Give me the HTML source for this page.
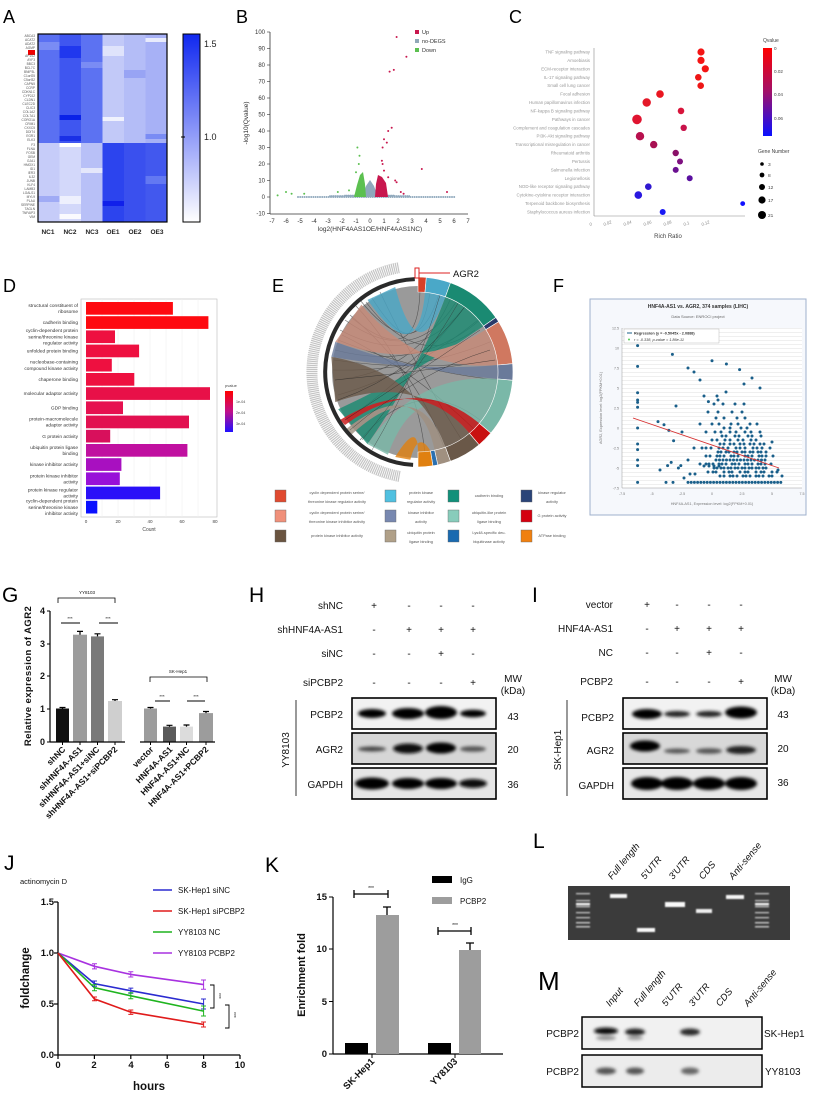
<!DOCTYPE html>
<html><head><meta charset="utf-8"><style>
html,body{margin:0;padding:0;background:#fff}
svg{display:block;font-family:"Liberation Sans",Arial,sans-serif}
</style></head><body>
<svg xmlns="http://www.w3.org/2000/svg" width="821" height="1110" viewBox="0 0 821 1110">
<defs>
<linearGradient id="hmcb" x1="0" y1="1" x2="0" y2="0"><stop offset="0" stop-color="#ffffff"/><stop offset="1" stop-color="#1028f0"/></linearGradient>
<linearGradient id="qcb" x1="0" y1="0" x2="0" y2="1"><stop offset="0" stop-color="#ff0000"/><stop offset="0.5" stop-color="#a0106a"/><stop offset="1" stop-color="#0a10ff"/></linearGradient>
<linearGradient id="pcb" x1="0" y1="0" x2="0" y2="1"><stop offset="0" stop-color="#ff0000"/><stop offset="0.5" stop-color="#c0108a"/><stop offset="1" stop-color="#2010ff"/></linearGradient>
<pattern id="fgrid" width="10" height="4" patternUnits="userSpaceOnUse"><line x1="0" y1="0.5" x2="10" y2="0.5" stroke="#e4e4e4" stroke-width="0.6"/></pattern>
<filter id="bl"><feGaussianBlur stdDeviation="1.6"/></filter>
<filter id="bl2"><feGaussianBlur stdDeviation="0.8"/></filter>
</defs>

<g font-size="18" fill="#000">
<text x="3" y="23">A</text><text x="236" y="23">B</text><text x="509" y="23">C</text>
<text x="3" y="292">D</text><text x="272" y="292">E</text><text x="553" y="292">F</text>
</g>
<g font-size="21" fill="#000">
<text x="2" y="602">G</text><text x="249" y="602">H</text><text x="532" y="602">I</text>
<text x="4" y="870">J</text><text x="265" y="872">K</text><text x="533" y="848">L</text>
<text x="538" y="990" font-size="26">M</text>
</g>

<!-- A heatmap -->
<g>
<rect x="38" y="34" width="21.5" height="109" fill="#5a70f2"/>
<rect x="59.5" y="34" width="21.5" height="109" fill="#3f56f0"/>
<rect x="81" y="34" width="21.5" height="109" fill="#5c72f2"/>
<rect x="102.5" y="34" width="21.5" height="109" fill="#c2c9f8"/>
<rect x="124" y="34" width="21.5" height="109" fill="#b4bdf7"/>
<rect x="145.5" y="34" width="21.5" height="109" fill="#a7b1f6"/>
<rect x="38" y="143" width="21.5" height="79" fill="#c6ccf9"/>
<rect x="59.5" y="143" width="21.5" height="79" fill="#d3d8fa"/>
<rect x="81" y="143" width="21.5" height="79" fill="#b8c0f7"/>
<rect x="102.5" y="143" width="21.5" height="79" fill="#2c44ee"/>
<rect x="124" y="143" width="21.5" height="79" fill="#3a50ee"/>
<rect x="145.5" y="143" width="21.5" height="79" fill="#4258ee"/>
<rect x="38" y="42" width="21.5" height="8" fill="#7a8cf4"/>
<rect x="59.5" y="46" width="21.5" height="12" fill="#2038ee"/>
<rect x="81" y="62" width="21.5" height="6" fill="#7a8cf4"/>
<rect x="102.5" y="46" width="21.5" height="10" fill="#dfe3fb"/>
<rect x="124" y="70" width="21.5" height="8" fill="#98a4f4"/>
<rect x="145.5" y="38" width="21.5" height="4" fill="#e8ebfc"/>
<rect x="59.5" y="115" width="21.5" height="5" fill="#0a22e8"/>
<rect x="102.5" y="117" width="21.5" height="4" fill="#f0f2fd"/>
<rect x="59.5" y="136" width="21.5" height="5" fill="#1a30e6"/>
<rect x="145.5" y="134" width="21.5" height="5" fill="#7a8cf4"/>
<rect x="59.5" y="143" width="21.5" height="4" fill="#ffffff"/>
<rect x="59.5" y="196" width="21.5" height="8" fill="#eef0fd"/>
<rect x="59.5" y="214" width="21.5" height="5" fill="#fafafe"/>
<rect x="102.5" y="201" width="21.5" height="5" fill="#1020ea"/>
<rect x="81" y="168" width="21.5" height="5" fill="#e4e7fb"/>
<rect x="38" y="196" width="21.5" height="6" fill="#a0abf5"/>
<rect x="145.5" y="176" width="21.5" height="8" fill="#6378f2"/>
</g>
<rect x="38" y="34" width="129" height="188" fill="none" stroke="#000" stroke-width="1.2"/>
<rect x="28" y="50" width="7" height="5" fill="#e00"/>
<g font-size="3.2" fill="#555" text-anchor="end">
<text x="35" y="37">ABCA3</text><text x="35" y="41">ACAT2</text><text x="35" y="45">ADAT2</text><text x="35" y="49">AGMP</text><text x="35" y="57">AP1S2</text><text x="35" y="61">AYF3</text><text x="35" y="65">BBC3</text><text x="35" y="69">BCL7C</text><text x="35" y="73">BNIP3L</text><text x="35" y="77">C1orf25</text><text x="35" y="81">C5orf32</text><text x="35" y="85">CAPN5</text><text x="35" y="89">CCRP</text><text x="35" y="93">CDKN1C</text><text x="35" y="97">CYP2J2</text><text x="35" y="101">CLDN1</text><text x="35" y="105">CLEC2D</text><text x="35" y="109">CLIC3</text><text x="35" y="113">COL1A2</text><text x="35" y="117">COL7A1</text><text x="35" y="121">CORO1A</text><text x="35" y="125">CRIM1</text><text x="35" y="129">CXXC5</text><text x="35" y="133">DDIT4</text><text x="35" y="137">EGR1</text><text x="35" y="141">ELK3</text>
<text x="35" y="146">F3</text><text x="35" y="150">FLNA</text><text x="35" y="154">FOSB</text><text x="35" y="158">GEM</text><text x="35" y="162">GJA1</text><text x="35" y="166">HMOX1</text><text x="35" y="170">ID1</text><text x="35" y="174">IER3</text><text x="35" y="178">IL32</text><text x="35" y="182">JUNB</text><text x="35" y="186">KLF4</text><text x="35" y="190">LAMB3</text><text x="35" y="194">LGALS1</text><text x="35" y="198">MYL9</text><text x="35" y="202">PLAU</text><text x="35" y="206">SERPINE</text><text x="35" y="210">TAGLN</text><text x="35" y="214">TNFAIP3</text><text x="35" y="218">VIM</text>
</g>
<rect x="183" y="34" width="17" height="188" fill="url(#hmcb)" stroke="#000" stroke-width="1"/>
<line x1="181" y1="137" x2="185" y2="137" stroke="#000"/>
<g font-size="9" fill="#222"><text x="204" y="47">1.5</text><text x="204" y="140">1.0</text></g>
<g font-size="6.5" font-weight="bold" fill="#222" text-anchor="middle">
<text x="48" y="234">NC1</text><text x="70" y="234">NC2</text><text x="92" y="234">NC3</text><text x="113" y="234">OE1</text><text x="135" y="234">OE2</text><text x="157" y="234">OE3</text>
</g>

<!-- B volcano -->
<g stroke="#333" stroke-width="0.8" fill="none">
<line x1="270" y1="32" x2="270" y2="214"/><line x1="270" y1="214" x2="468" y2="214"/>
</g>
<g stroke="#333" stroke-width="0.6">
<line x1="267" y1="213.5" x2="270" y2="213.5"/><line x1="267" y1="197" x2="270" y2="197"/><line x1="267" y1="180.5" x2="270" y2="180.5"/><line x1="267" y1="164" x2="270" y2="164"/><line x1="267" y1="147.5" x2="270" y2="147.5"/><line x1="267" y1="131" x2="270" y2="131"/><line x1="267" y1="114.5" x2="270" y2="114.5"/><line x1="267" y1="98" x2="270" y2="98"/><line x1="267" y1="81.5" x2="270" y2="81.5"/><line x1="267" y1="65" x2="270" y2="65"/><line x1="267" y1="48.5" x2="270" y2="48.5"/><line x1="267" y1="32" x2="270" y2="32"/>
</g>
<g font-size="6" fill="#333" text-anchor="end">
<text x="265" y="215.5">-10</text><text x="265" y="199">0</text><text x="265" y="182.5">10</text><text x="265" y="166">20</text><text x="265" y="149.5">30</text><text x="265" y="133">40</text><text x="265" y="116.5">50</text><text x="265" y="100">60</text><text x="265" y="83.5">70</text><text x="265" y="67">80</text><text x="265" y="50.5">90</text><text x="265" y="34">100</text>
</g>
<g font-size="6" fill="#333" text-anchor="middle">
<text x="272" y="223">-7</text><text x="286" y="223">-6</text><text x="300" y="223">-5</text><text x="314" y="223">-4</text><text x="328" y="223">-3</text><text x="342" y="223">-2</text><text x="356" y="223">-1</text><text x="370" y="223">0</text><text x="384" y="223">1</text><text x="398" y="223">2</text><text x="412" y="223">3</text><text x="426" y="223">4</text><text x="440" y="223">5</text><text x="454" y="223">6</text><text x="468" y="223">7</text>
</g>
<g fill="none" stroke-linecap="round">
<path d="M298 197 H456" stroke="#8fa8bc" stroke-width="2" stroke-dasharray="0 2.2"/>
<path d="M330 196 H410 M345 195.5 H395" stroke="#8fa8bc" stroke-width="1.8" stroke-dasharray="0 1.8"/>
<polygon points="362,197 366,186 370,180 374,186 378,197" fill="#8fa8bc" stroke="none"/>
<polygon points="354,197 357,185 360,175 363,172 365,184 366,197" fill="#5cc050" stroke="none"/>
<polygon points="375,197 376,184 378,175 382,177 386,183 388,197" fill="#c8174e" stroke="none"/>
</g>
<g fill="#c8174e">
<circle cx="396.6" cy="37" r="1"/><circle cx="406.4" cy="56.8" r="1"/><circle cx="389.6" cy="71.6" r="1"/><circle cx="393.8" cy="69.9" r="1"/><circle cx="391.7" cy="127.7" r="1"/><circle cx="388.2" cy="131" r="1"/><circle cx="384" cy="139.3" r="1"/><circle cx="382.6" cy="147.5" r="1"/><circle cx="386.8" cy="142.6" r="1"/><circle cx="381.9" cy="160.7" r="1"/><circle cx="382.6" cy="164" r="1"/><circle cx="395.2" cy="180.5" r="1"/><circle cx="396.6" cy="182.2" r="1"/><circle cx="388.2" cy="177.2" r="1"/><circle cx="400.8" cy="192" r="1"/><circle cx="403.6" cy="193.7" r="1"/><circle cx="421.8" cy="169" r="1"/><circle cx="447" cy="192" r="1"/><circle cx="384" cy="170.6" r="1"/>
</g>
<g fill="#5cc050">
<circle cx="357.4" cy="147.5" r="1"/><circle cx="359.5" cy="155.8" r="1"/><circle cx="358.8" cy="164" r="1"/><circle cx="356" cy="172.3" r="1"/><circle cx="286" cy="192" r="1"/><circle cx="291.6" cy="193.7" r="1"/><circle cx="304.2" cy="193.7" r="1"/><circle cx="277.6" cy="195.4" r="1"/><circle cx="349" cy="190.4" r="1"/><circle cx="337.8" cy="192" r="1"/>
</g>
<g font-size="5.5" fill="#333">
<rect x="415" y="30" width="4" height="4" fill="#c8174e"/><text x="422" y="34">Up</text>
<rect x="415" y="39" width="4" height="4" fill="#90a8b8"/><text x="422" y="43">no-DEGS</text>
<rect x="415" y="48" width="4" height="4" fill="#5cc050"/><text x="422" y="52">Down</text>
</g>
<text x="248" y="123" font-size="6.5" fill="#333" text-anchor="middle" transform="rotate(-90 248 123)">-log10(Qvalue)</text>
<text x="370" y="231" font-size="6.5" fill="#333" text-anchor="middle">log2(HNF4AAS1OE/HNF4AAS1NC)</text>

<!-- C bubble -->
<g stroke="#888" stroke-width="0.6"><line x1="594" y1="48" x2="594" y2="216"/><line x1="594" y1="216" x2="745" y2="216"/></g>
<g font-size="4.4" fill="#999" text-anchor="end">
<text x="590" y="53.5">TNF signaling pathway</text><text x="590" y="61.9">Amoebiasis</text><text x="590" y="70.3">ECM-receptor interaction</text><text x="590" y="78.8">IL-17 signaling pathway</text><text x="590" y="87.2">Small cell lung cancer</text><text x="590" y="95.6">Focal adhesion</text><text x="590" y="104">Human papillomavirus infection</text><text x="590" y="112.4">NF-kappa B signaling pathway</text><text x="590" y="120.9">Pathways in cancer</text><text x="590" y="129.3">Complement and coagulation cascades</text><text x="590" y="137.7">PI3K-Akt signaling pathway</text><text x="590" y="146.1">Transcriptional misregulation in cancer</text><text x="590" y="154.5">Rheumatoid arthritis</text><text x="590" y="163">Pertussis</text><text x="590" y="171.4">Salmonella infection</text><text x="590" y="179.8">Legionellosis</text><text x="590" y="188.2">NOD-like receptor signaling pathway</text><text x="590" y="196.6">Cytokine-cytokine receptor interaction</text><text x="590" y="205.1">Terpenoid backbone biosynthesis</text><text x="590" y="213.5">Staphylococcus aureus infection</text>
</g>
<g>
<circle cx="701" cy="52" r="3.6" fill="#f41414"/><circle cx="701" cy="60.4" r="3.6" fill="#f41414"/><circle cx="705.3" cy="68.8" r="3.6" fill="#f41414"/><circle cx="698.3" cy="77.3" r="3.3" fill="#ee1616"/><circle cx="700.7" cy="85.7" r="3.3" fill="#ee1616"/><circle cx="660" cy="94.1" r="3.8" fill="#ea1620"/><circle cx="646.7" cy="102.5" r="4.2" fill="#e41828"/><circle cx="681" cy="110.9" r="3.3" fill="#d8143a"/><circle cx="637" cy="119.4" r="4.8" fill="#e01430"/><circle cx="683.7" cy="127.8" r="3.2" fill="#c8124a"/><circle cx="640" cy="136.2" r="4.2" fill="#b8104e"/><circle cx="653.7" cy="144.6" r="3.7" fill="#a81052"/><circle cx="675.7" cy="153" r="3.2" fill="#8a1068"/><circle cx="680" cy="161.5" r="3" fill="#7e1080"/><circle cx="675.7" cy="169.9" r="3" fill="#6a1090"/><circle cx="689.7" cy="178.3" r="3" fill="#5a10a0"/><circle cx="648.3" cy="186.7" r="3.3" fill="#3018d0"/><circle cx="638.3" cy="195.1" r="3.8" fill="#2a18e0"/><circle cx="742.7" cy="203.6" r="2.4" fill="#1010ff"/><circle cx="662.7" cy="212" r="3" fill="#1818f4"/>
</g>
<g font-size="4.3" fill="#888" font-style="italic">
<text transform="translate(590 226) rotate(-20)">0</text><text transform="translate(604 226) rotate(-20)">0.02</text><text transform="translate(624 226) rotate(-20)">0.04</text><text transform="translate(644 226) rotate(-20)">0.06</text><text transform="translate(664 226) rotate(-20)">0.08</text><text transform="translate(684 226) rotate(-20)">0.1</text><text transform="translate(702 226) rotate(-20)">0.12</text>
</g>
<text x="668" y="238" font-size="6" fill="#444" text-anchor="middle">Rich Ratio</text>
<text x="763" y="42" font-size="5" fill="#444">Qvalue</text>
<rect x="763" y="48" width="9" height="88" fill="url(#qcb)"/>
<g font-size="4.6" fill="#444"><text x="774" y="50">0</text><text x="774" y="73">0.02</text><text x="774" y="96">0.04</text><text x="774" y="120">0.06</text></g>
<text x="758" y="153" font-size="5" fill="#444">Gene Number</text>
<g fill="#000"><circle cx="762" cy="164" r="1.8"/><circle cx="762" cy="175" r="2.4"/><circle cx="762" cy="187" r="3"/><circle cx="762" cy="200" r="3.6"/><circle cx="762" cy="215" r="4"/></g>
<g font-size="4.8" fill="#444"><text x="768" y="166">3</text><text x="768" y="177">8</text><text x="768" y="189">12</text><text x="768" y="202">17</text><text x="768" y="217">21</text></g>

<!-- D bars -->
<rect x="81" y="299" width="136" height="218" fill="#fff" stroke="#bbb" stroke-width="0.6"/>
<g stroke="#eee" stroke-width="0.5"><line x1="118" y1="299" x2="118" y2="517"/><line x1="150" y1="299" x2="150" y2="517"/><line x1="182" y1="299" x2="182" y2="517"/><line x1="102" y1="299" x2="102" y2="517"/><line x1="134" y1="299" x2="134" y2="517"/><line x1="166" y1="299" x2="166" y2="517"/><line x1="198" y1="299" x2="198" y2="517"/></g>
<g>
<rect x="86" y="302" width="86.9" height="12.7" fill="#fe0a10"/>
<rect x="86" y="316.2" width="122.4" height="12.7" fill="#fe0a10"/>
<rect x="86" y="330.4" width="29" height="12.7" fill="#ee1040"/>
<rect x="86" y="344.6" width="53.1" height="12.7" fill="#ee1040"/>
<rect x="86" y="358.8" width="25.8" height="12.7" fill="#ee1040"/>
<rect x="86" y="373" width="48.3" height="12.7" fill="#ee1040"/>
<rect x="86" y="387.2" width="124" height="12.7" fill="#e81048"/>
<rect x="86" y="401.4" width="37" height="12.7" fill="#e61050"/>
<rect x="86" y="415.6" width="103" height="12.7" fill="#e21050"/>
<rect x="86" y="429.8" width="24.2" height="12.7" fill="#d8105c"/>
<rect x="86" y="444" width="101.4" height="12.7" fill="#c010a0"/>
<rect x="86" y="458.2" width="35.4" height="12.7" fill="#a810c0"/>
<rect x="86" y="472.4" width="33.8" height="12.7" fill="#9810d8"/>
<rect x="86" y="486.6" width="74.1" height="12.7" fill="#2a10f8"/>
<rect x="86" y="500.8" width="11.3" height="12.7" fill="#0a10ff"/>
</g>
<g font-size="4.8" fill="#333" text-anchor="end">
<text x="78" y="306.9">structural constituent of</text><text x="78" y="313.1">ribosome</text>
<text x="78" y="324.2">cadherin binding</text>
<text x="78" y="332.2">cyclin-dependent protein</text><text x="78" y="338.4">serine/threonine kinase</text><text x="78" y="344.6">regulator activity</text>
<text x="78" y="352.6">unfolded protein binding</text>
<text x="78" y="363.7">nucleobase-containing</text><text x="78" y="369.9">compound kinase activity</text>
<text x="78" y="381">chaperone binding</text>
<text x="78" y="395.2">molecular adaptor activity</text>
<text x="78" y="409.4">GDP binding</text>
<text x="78" y="420.5">protein-macromolecule</text><text x="78" y="426.7">adaptor activity</text>
<text x="78" y="437.8">G protein activity</text>
<text x="78" y="448.9">ubiquitin protein ligase</text><text x="78" y="455.1">binding</text>
<text x="78" y="466.2">kinase inhibitor activity</text>
<text x="78" y="477.3">protein kinase inhibitor</text><text x="78" y="483.5">activity</text>
<text x="78" y="491.5">protein kinase regulator</text><text x="78" y="497.7">activity</text>
<text x="78" y="502.6">cyclin-dependent protein</text><text x="78" y="508.8">serine/threonine kinase</text><text x="78" y="515">inhibitor activity</text>
</g>
<g font-size="4.6" fill="#444" text-anchor="middle"><text x="86" y="523">0</text><text x="118" y="523">20</text><text x="150" y="523">40</text><text x="182" y="523">60</text><text x="215" y="523">80</text></g>
<text x="149" y="531" font-size="5" fill="#444" text-anchor="middle">Count</text>
<text x="225" y="387" font-size="4" fill="#444">pvalue</text>
<rect x="225" y="391" width="8" height="41" fill="url(#pcb)"/>
<g font-size="3.6" fill="#444"><text x="236" y="403">1e-04</text><text x="236" y="414">2e-04</text><text x="236" y="425">3e-04</text></g>

<!-- E chord -->
<path d="M399.6 476.4 A106 106 0 0 1 399.6 267.6" fill="none" stroke="#c4c4c4" stroke-width="11" stroke-dasharray="1.2 0.8"/>
<circle cx="418" cy="372" r="86" fill="#9a9a9a"/>
<g stroke="#3a3a3a" stroke-width="0.6" fill="none" opacity="0.7">
<path d="M340 330 Q418 372 470 300"/><path d="M335 350 Q418 372 480 320"/><path d="M345 320 Q418 372 460 295"/><path d="M360 300 Q418 372 440 290"/><path d="M333 370 Q418 372 495 340"/><path d="M338 395 Q418 372 490 310"/><path d="M352 318 Q418 372 420 290"/><path d="M372 298 Q418 372 430 292"/><path d="M345 420 Q418 372 470 300"/><path d="M360 440 Q418 372 480 420"/><path d="M335 380 Q418 372 450 300"/><path d="M342 335 Q418 372 485 440"/><path d="M350 315 Q418 372 445 450"/><path d="M380 292 Q418 372 465 445"/><path d="M356 306 Q418 372 425 455"/><path d="M334 360 Q418 372 498 360"/><path d="M338 340 Q418 372 498 380"/><path d="M366 302 Q418 372 475 330"/>
</g>
<g opacity="0.8">
<path d="M445.4 296.8 A80 80 0 0 1 483.5 326.1 Q418 372 338.2 409.2 L367.5 444.1 Q418 372 445.4 296.8Z" fill="#1a8a72"/>
<path d="M497.7 379 A80 80 0 0 1 479.3 423.4 Q418 372 387.9 454.7 L367.5 444.1 Q418 372 497.7 379Z" fill="#7ab8a8"/>
<path d="M469.4 433.3 A80 80 0 0 1 445.4 447.2 Q418 372 331.3 356.7 L335.3 402.1 Q418 372 469.4 433.3Z" fill="#6a5848"/>
<path d="M485.8 329.6 A80 80 0 0 1 497.7 365 Q418 372 361.4 304.6 L335.3 341.9 Q418 372 485.8 329.6Z" fill="#c98a78"/>
<path d="M425 292.3 A80 80 0 0 1 445.4 296.8 Q418 372 395.2 287 L367.5 299.9 Q418 372 425 292.3Z" fill="#4aa8c8"/>
<path d="M497.7 365 A80 80 0 0 1 497.7 379 Q418 372 335.3 341.9 L331.3 356.7 Q418 372 497.7 365Z" fill="#6a7a9a"/>
<path d="M430.5 451 A80 80 0 0 1 418 452 Q418 420 395.2 457 L410.3 459.7 Q418 430 430.5 451Z" fill="#e08010"/>
<path d="M445.4 447.2 A80 80 0 0 1 434.6 450.2 Q418 372 345 430 L350 436 Q418 372 445.4 447.2Z" fill="#a09080"/>
<path d="M479.3 423.4 A80 80 0 0 1 469.4 433.3 Q418 372 340 420 L345 425 Q418 372 479.3 423.4Z" fill="#c81010"/>
</g>
<g fill="none" stroke-width="0.5" opacity="0.7">
<path d="M338 400 Q418 372 470 300" stroke="#222"/><path d="M345 420 Q418 372 480 330" stroke="#222"/><path d="M362 440 Q418 372 460 300" stroke="#333"/><path d="M350 430 Q418 372 490 350" stroke="#222"/><path d="M372 450 Q418 372 440 295" stroke="#333"/><path d="M335 380 Q418 372 495 360" stroke="#222"/>
</g>
<path d="M418 277 A95 95 0 0 1 426.3 277.4 L425 292.3 A80 80 0 0 0 418 292Z" fill="#d84028" stroke="#fff" stroke-width="0.6"/>
<path d="M426.3 277.4 A95 95 0 0 1 450.5 282.7 L445.4 296.8 A80 80 0 0 0 425 292.3Z" fill="#4aa8c8" stroke="#fff" stroke-width="0.6"/>
<path d="M450.5 282.7 A95 95 0 0 1 495.8 317.5 L483.5 326.1 A80 80 0 0 0 445.4 296.8Z" fill="#1a8a72" stroke="#fff" stroke-width="0.6"/>
<path d="M495.8 317.5 A95 95 0 0 1 498.6 321.7 L485.8 329.6 A80 80 0 0 0 483.5 326.1Z" fill="#2a3a6a" stroke="#fff" stroke-width="0.6"/>
<path d="M498.6 321.7 A95 95 0 0 1 512.6 363.7 L497.7 365 A80 80 0 0 0 485.8 329.6Z" fill="#d07860" stroke="#fff" stroke-width="0.6"/>
<path d="M512.6 363.7 A95 95 0 0 1 512.6 380.3 L497.7 379 A80 80 0 0 0 497.7 365Z" fill="#6a7a9a" stroke="#fff" stroke-width="0.6"/>
<path d="M512.6 380.3 A95 95 0 0 1 490.8 433.1 L479.3 423.4 A80 80 0 0 0 497.7 379Z" fill="#7ab8a8" stroke="#fff" stroke-width="0.6"/>
<path d="M490.8 433.1 A95 95 0 0 1 479.1 444.8 L469.4 433.3 A80 80 0 0 0 479.3 423.4Z" fill="#c81010" stroke="#fff" stroke-width="0.6"/>
<path d="M479.1 444.8 A95 95 0 0 1 450.5 461.3 L445.4 447.2 A80 80 0 0 0 469.4 433.3Z" fill="#6a5848" stroke="#fff" stroke-width="0.6"/>
<path d="M450.5 461.3 A95 95 0 0 1 437.8 464.9 L434.6 450.2 A80 80 0 0 0 445.4 447.2Z" fill="#a09080" stroke="#fff" stroke-width="0.6"/>
<path d="M437.8 464.9 A95 95 0 0 1 432.9 465.8 L430.5 451 A80 80 0 0 0 434.6 450.2Z" fill="#2a70b0" stroke="#fff" stroke-width="0.6"/>
<path d="M432.9 465.8 A95 95 0 0 1 418 467 L418 452 A80 80 0 0 0 430.5 451Z" fill="#e08010" stroke="#fff" stroke-width="0.6"/>
<path d="M413.1 464.9 A93 93 0 0 1 414.8 279.1" fill="none" stroke="#2a2a2a" stroke-width="4"/>
<rect x="415" y="268" width="4" height="10" fill="none" stroke="#d22" stroke-width="1"/>
<line x1="419" y1="273" x2="450" y2="273" stroke="#d22" stroke-width="1"/>
<text x="453" y="277" font-size="9.5" fill="#111">AGR2</text>
<g stroke="#666" stroke-width="0.4">
<rect x="275" y="490" width="11" height="12" fill="#e04a30"/><rect x="385" y="490" width="11" height="12" fill="#50c0e0"/><rect x="448" y="490" width="11" height="12" fill="#12907a"/><rect x="521" y="490" width="11" height="12" fill="#2a4478"/>
<rect x="275" y="510" width="11" height="12" fill="#f0907a"/><rect x="385" y="510" width="11" height="12" fill="#7888b0"/><rect x="448" y="510" width="11" height="12" fill="#88ccbb"/><rect x="521" y="510" width="11" height="12" fill="#d40010"/>
<rect x="275" y="530" width="11" height="12" fill="#6a5440"/><rect x="385" y="530" width="11" height="12" fill="#b0a088"/><rect x="448" y="530" width="11" height="12" fill="#1a6ab0"/><rect x="521" y="530" width="11" height="12" fill="#f08010"/>
</g>
<g font-size="3.9" fill="#555" text-anchor="middle">
<text x="337" y="494">cyclin dependent protein serine/</text><text x="337" y="503">threonine kinase regulator activity</text>
<text x="421" y="494">protein kinase</text><text x="421" y="503">regulator activity</text>
<text x="489" y="497">cadherin binding</text>
<text x="552" y="494">kinase regulator</text><text x="552" y="503">activity</text>
<text x="337" y="514">cyclin dependent protein serine/</text><text x="337" y="523">threonine kinase inhibitor activity</text>
<text x="421" y="514">kinase inhibitor</text><text x="421" y="523">activity</text>
<text x="489" y="514">ubiquitin-like protein</text><text x="489" y="523">ligase binding</text>
<text x="552" y="517">G protein activity</text>
<text x="337" y="537">protein kinase inhibitor activity</text>
<text x="421" y="534">ubiquitin protein</text><text x="421" y="543">ligase binding</text>
<text x="489" y="534">Lys48-specific deu-</text><text x="489" y="543">biquitinase activity</text>
<text x="552" y="537">ATPase binding</text>
</g>

<!-- F scatter -->
<rect x="590" y="299" width="216" height="216" fill="#f6f8fc" stroke="#9fb0cc" stroke-width="1"/>
<rect x="622" y="328" width="180" height="160" fill="#fff"/>
<rect x="622" y="328" width="180" height="160" fill="url(#fgrid)"/>
<line x1="622" y1="328" x2="622" y2="488" stroke="#999" stroke-width="0.5"/><line x1="622" y1="488" x2="802" y2="488" stroke="#999" stroke-width="0.5"/>
<text x="698" y="308" font-size="5" font-weight="bold" fill="#333" text-anchor="middle">HNF4A-AS1 vs. AGR2, 374 samples (LIHC)</text>
<text x="698" y="318" font-size="4" fill="#666" text-anchor="middle">Data Source: ENROCI project</text>
<g fill="none" stroke="#1a5f8a" stroke-linecap="round" stroke-width="3">
<path d="M688 482.4 H782" stroke-dasharray="0 3.2"/>
<path d="M666 482.4 H680" stroke-dasharray="0 7"/>
<path d="M720 476 H776" stroke-dasharray="0 4 0 6 0 3"/>
<path d="M708 472 H778" stroke-dasharray="0 5 0 3 0 8"/>
<path d="M714 468 H770" stroke-dasharray="0 3 0 4"/>
<path d="M700 464 H774" stroke-dasharray="0 6 0 3 0 4"/>
<path d="M716 460 H766" stroke-dasharray="0 3.5"/>
<path d="M706 456 H776" stroke-dasharray="0 4 0 7 0 3"/>
<path d="M718 452 H768" stroke-dasharray="0 3 0 5"/>
<path d="M694 448 H772" stroke-dasharray="0 8 0 4 0 5"/>
<path d="M720 444 H766" stroke-dasharray="0 4 0 6"/>
<path d="M712 440 H760" stroke-dasharray="0 5 0 8"/>
<path d="M722 436 H762" stroke-dasharray="0 4 0 9"/>
<path d="M706 432 H766" stroke-dasharray="0 9 0 6"/>
<path d="M724 428 H756" stroke-dasharray="0 6 0 11"/>
<path d="M700 424 H760" stroke-dasharray="0 12 0 7"/>
<path d="M716 418 H756" stroke-dasharray="0 8 0 13"/>
<path d="M708 412 H750" stroke-dasharray="0 10 0 14"/>
<path d="M714 404 H746" stroke-dasharray="0 9 0 12"/>
<path d="M704 396 H730" stroke-dasharray="0 13"/>
<path d="M704 466 H720 M690 474 H700" stroke-dasharray="0 5"/>
</g>
<g fill="#1a5f8a">
<circle cx="637.6" cy="345.6" r="1.5"/><circle cx="637.6" cy="366.4" r="1.5"/><circle cx="637.6" cy="392.8" r="1.5"/><circle cx="637.6" cy="400" r="1.5"/><circle cx="637.6" cy="402.4" r="1.5"/><circle cx="637.6" cy="407.2" r="1.5"/><circle cx="637.6" cy="428" r="1.5"/><circle cx="637.6" cy="444" r="1.5"/><circle cx="637.6" cy="449.6" r="1.5"/><circle cx="637.6" cy="460" r="1.5"/><circle cx="637.6" cy="465.6" r="1.5"/><circle cx="637.6" cy="482.4" r="1.5"/>
<circle cx="673.6" cy="440.8" r="1.5"/><circle cx="668.8" cy="430.4" r="1.5"/><circle cx="671.2" cy="462.4" r="1.5"/><circle cx="688" cy="368" r="1.5"/><circle cx="694" cy="372" r="1.5"/><circle cx="672.4" cy="354.4" r="1.5"/><circle cx="712" cy="360.8" r="1.5"/><circle cx="726.4" cy="364" r="1.5"/><circle cx="739.6" cy="369.6" r="1.5"/><circle cx="658" cy="421.6" r="1.5"/><circle cx="664" cy="424.8" r="1.5"/><circle cx="667.6" cy="465.6" r="1.5"/><circle cx="678.4" cy="468" r="1.5"/><circle cx="680.8" cy="465.6" r="1.5"/><circle cx="708.4" cy="401.6" r="1.5"/><circle cx="718" cy="400" r="1.5"/><circle cx="744" cy="384" r="1.5"/><circle cx="752" cy="378" r="1.5"/><circle cx="760" cy="388" r="1.5"/><circle cx="700" cy="380" r="1.5"/><circle cx="726" cy="392" r="1.5"/><circle cx="772" cy="442" r="1.5"/><circle cx="778" cy="470" r="1.5"/><circle cx="782" cy="476" r="1.5"/><circle cx="660" cy="470" r="1.5"/><circle cx="684" cy="478" r="1.5"/><circle cx="688" cy="460" r="1.5"/><circle cx="676" cy="406" r="1.5"/><circle cx="682" cy="432" r="1.5"/>
</g>
<line x1="633" y1="418" x2="779" y2="468" stroke="#d63030" stroke-width="0.9"/>
<rect x="624" y="329" width="95" height="14" fill="#fff" stroke="#aaa" stroke-width="0.4"/>
<line x1="627" y1="333" x2="632" y2="333" stroke="#1a5f8a"/><text x="634" y="334.5" font-size="3.8" fill="#333" font-weight="bold">Regression (y = -0.5045x - 2.0888)</text>
<circle cx="629" cy="339.5" r="1" fill="#5c5"/><text x="634" y="341" font-size="3.8" fill="#333" font-style="italic">r = -0.338, p-value = 1.86e-11</text>
<g font-size="3.6" fill="#777" text-anchor="middle">
<text x="622" y="495">-7.5</text><text x="652" y="495">-5</text><text x="682" y="495">-2.5</text><text x="712" y="495">0</text><text x="742" y="495">2.5</text><text x="772" y="495">5</text><text x="802" y="495">7.5</text>
</g>
<g font-size="3.6" fill="#777" text-anchor="end">
<text x="619" y="329.3">12.5</text><text x="619" y="349.3">10</text><text x="619" y="369.3">7.5</text><text x="619" y="389.3">5</text><text x="619" y="409.3">2.5</text><text x="619" y="429.3">0</text><text x="619" y="449.3">-2.5</text><text x="619" y="469.3">-5</text><text x="619" y="489.3">-7.5</text>
</g>
<text x="712" y="505" font-size="3.8" fill="#777" text-anchor="middle">HNF4A-AS1, Expression level: log2(FPKM+0.01)</text>
<text x="602" y="408" font-size="3.8" fill="#777" text-anchor="middle" transform="rotate(-90 602 408)">AGR2, Expression level: log2(FPKM+0.01)</text>

<!-- G bars -->
<g>
<rect x="56" y="708.5" width="13" height="33.5" fill="#111"/>
<rect x="73" y="634.7" width="14" height="107.3" fill="#9c9c9c"/>
<rect x="91" y="636.4" width="13" height="105.6" fill="#7a7a7a"/>
<rect x="108" y="701" width="14" height="41" fill="#cfcfcf"/>
<rect x="144" y="708.5" width="13" height="33.5" fill="#9c9c9c"/>
<rect x="163" y="726.6" width="13" height="15.4" fill="#5a5a5a"/>
<rect x="180" y="726.6" width="13" height="15.4" fill="#dcdcdc"/>
<rect x="199" y="713.1" width="14" height="28.9" fill="#9c9c9c"/>
</g>
<g stroke="#000" stroke-width="1.2" fill="none">
<path d="M62.5 708.5 V707.5 M59.5 707.5 H65.5"/><path d="M80 634.7 V631.4 M77 631.4 H83"/><path d="M97.5 636.4 V633.8 M94.5 633.8 H100.5"/><path d="M115 701 V699.7 M112 699.7 H118"/><path d="M150.5 708.5 V707.5 M147.5 707.5 H153.5"/><path d="M169.5 726.6 V725.3 M166.5 725.3 H172.5"/><path d="M186.5 726.6 V725 M183.5 725 H189.5"/><path d="M206 713.1 V711.5 M203 711.5 H209"/>
<line x1="50" y1="611" x2="50" y2="742"/><line x1="50" y1="742" x2="125" y2="742"/><line x1="140" y1="742" x2="215" y2="742"/>
</g>
<g stroke="#000" stroke-width="1"><line x1="47" y1="742" x2="50" y2="742"/><line x1="47" y1="709" x2="50" y2="709"/><line x1="47" y1="676" x2="50" y2="676"/><line x1="47" y1="644" x2="50" y2="644"/><line x1="47" y1="611" x2="50" y2="611"/>
<line x1="62.5" y1="742" x2="62.5" y2="745"/><line x1="80" y1="742" x2="80" y2="745"/><line x1="97.5" y1="742" x2="97.5" y2="745"/><line x1="115" y1="742" x2="115" y2="745"/><line x1="150.5" y1="742" x2="150.5" y2="745"/><line x1="169.5" y1="742" x2="169.5" y2="745"/><line x1="186.5" y1="742" x2="186.5" y2="745"/><line x1="206" y1="742" x2="206" y2="745"/></g>
<g font-size="9" font-weight="bold" text-anchor="end" fill="#111"><text x="45" y="745">0</text><text x="45" y="712">1</text><text x="45" y="679">2</text><text x="45" y="647">3</text><text x="45" y="614">4</text></g>
<text x="31" y="676" font-size="9.5" font-weight="bold" fill="#111" text-anchor="middle" transform="rotate(-90 31 676)" letter-spacing="0.4">Relative expression of AGR2</text>
<g stroke="#000" stroke-width="0.8" fill="none"><path d="M58 603 V598 H115 V603"/><path d="M150 682 V677 H207 V682"/></g>
<g stroke="#000" stroke-width="1"><line x1="61" y1="623" x2="80" y2="623"/><line x1="99" y1="623" x2="118" y2="623"/><line x1="155" y1="701" x2="170" y2="701"/><line x1="187" y1="701" x2="205" y2="701"/></g>
<g font-size="4.5" text-anchor="middle" fill="#111"><text x="87" y="594">YY8103</text><text x="178" y="673">SK-Hep1</text><text x="70" y="620">***</text><text x="108" y="620">***</text><text x="162" y="698">***</text><text x="196" y="698">***</text></g>
<g font-size="8.5" font-weight="bold" fill="#111" text-anchor="end">
<text transform="translate(66 750) rotate(-45)">shNC</text>
<text transform="translate(83 750) rotate(-45)">shHNF4A-AS1</text>
<text transform="translate(100 750) rotate(-45)">shHNF4A-AS1+siNC</text>
<text transform="translate(118 750) rotate(-45)">shHNF4A-AS1+siPCBP2</text>
<text transform="translate(154 750) rotate(-45)">vector</text>
<text transform="translate(173 750) rotate(-45)">HNF4A-AS1</text>
<text transform="translate(190 750) rotate(-45)">HNF4A-AS1+NC</text>
<text transform="translate(209 750) rotate(-45)">HNF4A-AS1+PCBP2</text>
</g>

<!-- H -->
<g font-size="10" fill="#111">
<g text-anchor="end"><text x="343" y="609">shNC</text><text x="343" y="633">shHNF4A-AS1</text><text x="343" y="657">siNC</text><text x="343" y="686">siPCBP2</text></g>
<g text-anchor="middle">
<text x="374" y="609">+</text><text x="409" y="609">-</text><text x="441" y="609">-</text><text x="473" y="609">-</text>
<text x="374" y="633">-</text><text x="409" y="633">+</text><text x="441" y="633">+</text><text x="473" y="633">+</text>
<text x="374" y="657">-</text><text x="409" y="657">-</text><text x="441" y="657">+</text><text x="473" y="657">-</text>
<text x="374" y="686">-</text><text x="409" y="686">-</text><text x="441" y="686">-</text><text x="473" y="686">+</text>
<text x="513" y="682">MW</text><text x="513" y="694">(kDa)</text>
<text x="513" y="720">43</text><text x="513" y="753">20</text><text x="513" y="788">36</text>
</g>
<g text-anchor="end"><text x="343" y="718">PCBP2</text><text x="343" y="753">AGR2</text><text x="343" y="788">GAPDH</text></g>
<text x="289" y="750" text-anchor="middle" transform="rotate(-90 289 750)">YY8103</text>
</g>
<line x1="296" y1="700" x2="296" y2="796" stroke="#000" stroke-width="0.8"/>
<rect x="352" y="698" width="144" height="31" fill="#f2f2f2" stroke="#000" stroke-width="1.6"/>
<rect x="352" y="733" width="144" height="31" fill="#d6d6d6" stroke="#000" stroke-width="1.6"/>
<rect x="352" y="768" width="144" height="31" fill="#e6e6e6" stroke="#000" stroke-width="1.6"/>
<g filter="url(#bl)">
<ellipse cx="372" cy="713.5" rx="14" ry="4.5" fill="#000"/><ellipse cx="408" cy="713.5" rx="16" ry="5.5" fill="#000"/><ellipse cx="441" cy="712.5" rx="16" ry="6.5" fill="#000"/><ellipse cx="473" cy="713.5" rx="13" ry="3.8" fill="#000"/>
<ellipse cx="372" cy="749" rx="14" ry="2.5" fill="#444"/><ellipse cx="408" cy="748.5" rx="15" ry="5" fill="#111"/><ellipse cx="441" cy="748" rx="15" ry="5.5" fill="#000"/><ellipse cx="473" cy="749" rx="13" ry="2.8" fill="#555"/>
<ellipse cx="372" cy="783.5" rx="17" ry="6" fill="#000"/><ellipse cx="408" cy="783.5" rx="16" ry="5.5" fill="#000"/><ellipse cx="441" cy="783.5" rx="16" ry="5.5" fill="#000"/><ellipse cx="473" cy="783.5" rx="14" ry="4.5" fill="#111"/>
</g>

<!-- I -->
<g font-size="10" fill="#111">
<g text-anchor="end"><text x="613" y="608">vector</text><text x="613" y="632">HNF4A-AS1</text><text x="613" y="656">NC</text><text x="613" y="685">PCBP2</text></g>
<g text-anchor="middle">
<text x="647" y="608">+</text><text x="677" y="608">-</text><text x="709" y="608">-</text><text x="741" y="608">-</text>
<text x="647" y="632">-</text><text x="677" y="632">+</text><text x="709" y="632">+</text><text x="741" y="632">+</text>
<text x="647" y="656">-</text><text x="677" y="656">-</text><text x="709" y="656">+</text><text x="741" y="656">-</text>
<text x="647" y="685">-</text><text x="677" y="685">-</text><text x="709" y="685">-</text><text x="741" y="685">+</text>
<text x="783" y="682">MW</text><text x="783" y="694">(kDa)</text>
<text x="783" y="718">43</text><text x="783" y="752">20</text><text x="783" y="786">36</text>
</g>
<g text-anchor="end"><text x="614" y="721">PCBP2</text><text x="614" y="754">AGR2</text><text x="614" y="789">GAPDH</text></g>
<text x="561" y="750" text-anchor="middle" transform="rotate(-90 561 750)">SK-Hep1</text>
</g>
<line x1="567" y1="700" x2="567" y2="796" stroke="#000" stroke-width="0.8"/>
<rect x="623" y="698" width="144" height="31" fill="#f2f2f2" stroke="#000" stroke-width="1.6"/>
<rect x="623" y="733" width="144" height="31" fill="#d8d8d8" stroke="#000" stroke-width="1.6"/>
<rect x="623" y="768" width="144" height="31" fill="#e8e8e8" stroke="#000" stroke-width="1.6"/>
<g filter="url(#bl)">
<ellipse cx="647" cy="714" rx="15" ry="5" fill="#000"/><ellipse cx="677" cy="714" rx="13" ry="3" fill="#222"/><ellipse cx="709" cy="714" rx="13" ry="3" fill="#222"/><ellipse cx="741" cy="712.5" rx="16" ry="6" fill="#000"/>
<ellipse cx="645" cy="746" rx="15" ry="5.5" fill="#000"/><ellipse cx="677" cy="751" rx="13" ry="2.5" fill="#555"/><ellipse cx="709" cy="751" rx="13" ry="2.8" fill="#555"/><ellipse cx="741" cy="750" rx="15" ry="4" fill="#222"/>
<ellipse cx="647" cy="783.5" rx="16" ry="6.5" fill="#000"/><ellipse cx="677" cy="783.5" rx="16" ry="6.5" fill="#000"/><ellipse cx="709" cy="783.5" rx="16" ry="6.5" fill="#000"/><ellipse cx="741" cy="783.5" rx="16" ry="6.5" fill="#000"/>
</g>

<!-- J -->
<text x="20" y="884" font-size="7.5" fill="#111">actinomycin D</text>
<g stroke="#000" stroke-width="1.3" fill="none"><line x1="58" y1="902" x2="58" y2="1055"/><line x1="58" y1="1055" x2="240" y2="1055"/></g>
<g stroke="#000" stroke-width="1.2"><line x1="54" y1="1055" x2="58" y2="1055"/><line x1="54" y1="1004" x2="58" y2="1004"/><line x1="54" y1="953" x2="58" y2="953"/><line x1="54" y1="902" x2="58" y2="902"/>
<line x1="58" y1="1055" x2="58" y2="1059"/><line x1="94.4" y1="1055" x2="94.4" y2="1059"/><line x1="130.8" y1="1055" x2="130.8" y2="1059"/><line x1="167.2" y1="1055" x2="167.2" y2="1059"/><line x1="203.6" y1="1055" x2="203.6" y2="1059"/><line x1="240" y1="1055" x2="240" y2="1059"/></g>
<g font-size="9.5" font-weight="bold" fill="#111" text-anchor="end"><text x="54" y="1058">0.0</text><text x="54" y="1007">0.5</text><text x="54" y="956">1.0</text><text x="54" y="905">1.5</text></g>
<g font-size="9.5" font-weight="bold" fill="#111" text-anchor="middle"><text x="58" y="1068">0</text><text x="94" y="1068">2</text><text x="131" y="1068">4</text><text x="167" y="1068">6</text><text x="204" y="1068">8</text><text x="240" y="1068">10</text></g>
<text x="149" y="1090" font-size="11.5" font-weight="bold" fill="#111" text-anchor="middle">hours</text>
<text x="29" y="978" font-size="11.5" font-weight="bold" fill="#111" text-anchor="middle" transform="rotate(-90 29 978)">foldchange</text>
<g fill="none" stroke-width="1.6">
<path d="M58 953 L94.4 966.3 L130.8 974.4 L203.6 984.6" stroke="#a832e0"/>
<path d="M58 953 L94.4 983.6 L130.8 990.7 L203.6 1004" stroke="#2b2bd0"/>
<path d="M58 953 L94.4 987.7 L130.8 995.8 L203.6 1011.1" stroke="#1fb41f"/>
<path d="M58 953 L94.4 998.9 L130.8 1012.2 L203.6 1024.4" stroke="#e01b1b"/>
</g>
<g fill="none" stroke-width="1">
<path d="M94.4 963.7 V968.9 M92 963.7 H97 M92 968.9 H97 M130.8 971.8 V977 M128.3 971.8 H133.3 M128.3 977 H133.3 M203.6 980 V989.2 M201 980 H206 M201 989.2 H206" stroke="#a832e0"/>
<path d="M94.4 981 V986.2 M92 981 H97 M92 986.2 H97 M130.8 988.1 V993.3 M128.3 988.1 H133.3 M128.3 993.3 H133.3 M203.6 999 V1009 M201 999 H206 M201 1009 H206" stroke="#2b2bd0"/>
<path d="M94.4 984.7 V990.7 M92 984.7 H97 M92 990.7 H97 M130.8 992.8 V998.8 M128.3 992.8 H133.3 M128.3 998.8 H133.3 M203.6 1006 V1016 M201 1006 H206 M201 1016 H206" stroke="#1fb41f"/>
<path d="M94.4 997 V1000.8 M92 997 H97 M92 1000.8 H97 M130.8 1010 V1014.4 M128.3 1010 H133.3 M128.3 1014.4 H133.3 M203.6 1022 V1027 M201 1022 H206 M201 1027 H206" stroke="#e01b1b"/>
</g>
<g font-size="8" fill="#111">
<line x1="153" y1="890" x2="172" y2="890" stroke="#2b2bd0" stroke-width="1.6"/><text x="178" y="893">SK-Hep1 siNC</text>
<line x1="153" y1="911" x2="172" y2="911" stroke="#e01b1b" stroke-width="1.6"/><text x="178" y="914">SK-Hep1 siPCBP2</text>
<line x1="153" y1="932" x2="172" y2="932" stroke="#1fb41f" stroke-width="1.6"/><text x="178" y="935">YY8103 NC</text>
<line x1="153" y1="953" x2="172" y2="953" stroke="#a832e0" stroke-width="1.6"/><text x="178" y="956">YY8103 PCBP2</text>
</g>
<g stroke="#000" stroke-width="0.9" fill="none"><path d="M210 985 H214 V1008 H210"/><path d="M225 1005 H229 V1028 H225"/></g>
<g font-size="5" fill="#111"><text transform="translate(217 993) rotate(90)">***</text><text transform="translate(232 1012) rotate(90)">***</text></g>

<!-- K -->
<g stroke="#000" stroke-width="1.2" fill="none"><line x1="333" y1="897" x2="333" y2="1054"/><line x1="333" y1="1054" x2="503" y2="1054"/></g>
<g stroke="#000" stroke-width="1"><line x1="329" y1="1054" x2="333" y2="1054"/><line x1="329" y1="1001.5" x2="333" y2="1001.5"/><line x1="329" y1="949" x2="333" y2="949"/><line x1="329" y1="897" x2="333" y2="897"/><line x1="372" y1="1054" x2="372" y2="1058"/><line x1="455" y1="1054" x2="455" y2="1058"/></g>
<g font-size="9.5" font-weight="bold" fill="#111" text-anchor="end"><text x="327" y="1057">0</text><text x="327" y="1005">5</text><text x="327" y="952">10</text><text x="327" y="900">15</text></g>
<text x="305" y="975" font-size="11" font-weight="bold" fill="#111" text-anchor="middle" transform="rotate(-90 305 975)">Enrichment fold</text>
<rect x="345" y="1043" width="23" height="11" fill="#000"/>
<rect x="376" y="915" width="23" height="139" fill="#9d9d9d"/>
<rect x="428" y="1043" width="23" height="11" fill="#000"/>
<rect x="459" y="950" width="22" height="104" fill="#9d9d9d"/>
<g stroke="#000" stroke-width="1.3" fill="none"><path d="M387 915 V907 M383 907 H391"/><path d="M470 950 V943 M466 943 H474"/>
<path d="M354 890 V898 M354 894 H388 M388 890 V898"/><path d="M438 927 V935 M438 931 H471 M471 927 V935"/></g>
<g font-size="5" fill="#111" text-anchor="middle"><text x="371" y="890">***</text><text x="455" y="927">***</text></g>
<rect x="432" y="876" width="20" height="7" fill="#000"/><text x="460" y="883" font-size="8" fill="#111">IgG</text>
<rect x="432" y="897" width="20" height="7" fill="#9d9d9d"/><text x="460" y="904" font-size="8" fill="#111">PCBP2</text>
<g font-size="9.5" font-weight="bold" fill="#111" text-anchor="end">
<text transform="translate(375 1062) rotate(-45)">SK-Hep1</text>
<text transform="translate(458 1062) rotate(-45)">YY8103</text>
</g>

<!-- L gel -->
<rect x="568" y="886" width="222" height="54" fill="#3b3b3b"/>
<g filter="url(#bl2)" fill="#c8c8c8">
<rect x="576" y="893" width="14" height="1.3"/><rect x="576" y="900" width="14" height="1.3"/><rect x="576" y="903" width="14" height="2.2" fill="#fff"/><rect x="576" y="906" width="14" height="1.3"/><rect x="576" y="912" width="14" height="1.3"/><rect x="576" y="917" width="14" height="1.3"/><rect x="576" y="922" width="14" height="1.5"/><rect x="576" y="926" width="14" height="1.5"/>
<rect x="755" y="893" width="14" height="1.3"/><rect x="755" y="900" width="14" height="1.3"/><rect x="755" y="903" width="14" height="2.2" fill="#fff"/><rect x="755" y="906" width="14" height="1.3"/><rect x="755" y="912" width="14" height="1.3"/><rect x="755" y="917" width="14" height="1.3"/><rect x="755" y="922" width="14" height="1.5"/><rect x="755" y="926" width="14" height="1.5"/>
<rect x="610" y="894" width="17" height="4" fill="#f6f6f6"/><rect x="637" y="928" width="18" height="4" fill="#fafafa"/><rect x="665" y="902" width="20" height="5" fill="#fafafa"/><rect x="696" y="909" width="16" height="4" fill="#eee"/><rect x="726" y="895" width="18" height="4" fill="#f6f6f6"/>
</g>
<g font-size="9.5" fill="#111" font-style="italic">
<text transform="translate(612 880) rotate(-50)">Full length</text>
<text transform="translate(645 880) rotate(-50)">5'UTR</text>
<text transform="translate(673 880) rotate(-50)">3'UTR</text>
<text transform="translate(703 880) rotate(-50)">CDS</text>
<text transform="translate(733 880) rotate(-50)">Anti-sense</text>
</g>

<!-- M -->
<g font-size="9.5" fill="#111" font-style="italic">
<text transform="translate(610 1007) rotate(-50)">Input</text>
<text transform="translate(638 1007) rotate(-50)">Full length</text>
<text transform="translate(666 1007) rotate(-50)">5'UTR</text>
<text transform="translate(693 1007) rotate(-50)">3'UTR</text>
<text transform="translate(720 1007) rotate(-50)">CDS</text>
<text transform="translate(748 1007) rotate(-50)">Anti-sense</text>
</g>
<rect x="582" y="1017" width="180" height="32" fill="#f1f1f1" stroke="#000" stroke-width="1.5"/>
<rect x="582" y="1055" width="180" height="32" fill="#ececec" stroke="#000" stroke-width="1.5"/>
<g filter="url(#bl)">
<ellipse cx="606" cy="1031" rx="12" ry="3.5" fill="#111"/><ellipse cx="635" cy="1032" rx="10" ry="3.5" fill="#222"/><ellipse cx="690" cy="1032" rx="10" ry="3.5" fill="#2a2a2a"/>
<ellipse cx="606" cy="1038" rx="10" ry="2" fill="#888"/><ellipse cx="635" cy="1038" rx="8" ry="2" fill="#999"/>
<ellipse cx="606" cy="1071" rx="10" ry="3.5" fill="#555"/><ellipse cx="635" cy="1071" rx="9" ry="3.5" fill="#555"/><ellipse cx="690" cy="1071" rx="9" ry="3.5" fill="#666"/>
</g>
<g font-size="10" fill="#111"><text x="579" y="1037" text-anchor="end">PCBP2</text><text x="579" y="1075" text-anchor="end">PCBP2</text>
<text x="764" y="1037">SK-Hep1</text><text x="765" y="1075">YY8103</text></g>
</svg>
</body></html>
